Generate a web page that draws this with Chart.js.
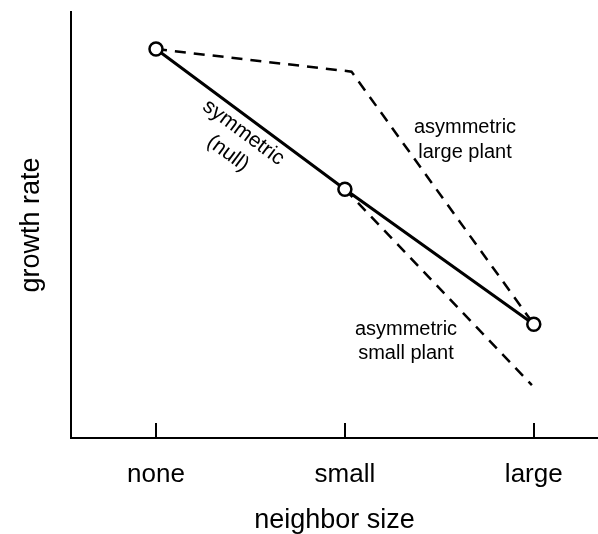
<!DOCTYPE html>
<html><head><meta charset="utf-8">
<script src="https://cdn.jsdelivr.net/npm/chart.js@4.4.1/dist/chart.umd.min.js"></script>
<style>html,body{margin:0;padding:0;background:#fff;} canvas{display:block;}</style>
</head><body>
<canvas id="c" width="598" height="534"></canvas>
<script>
// ---- data ----
const categories = ['none', 'small', 'large'];
const categoryX = [0, 1, 2];
const symmetricY = [9.13, 5.84, 2.67];
const largePlantX = [0, 1.035, 2];
const largePlantY = [9.13, 8.6, 2.67];
const smallPlantX = [1, 1.99];
const smallPlantY = [5.84, 1.24];
const xTitle = 'neighbor size';
const yTitle = 'growth rate';
const symLabel = ['symmetric', '(null)'];
const largeLabel = ['asymmetric', 'large plant'];
const smallLabel = ['asymmetric', 'small plant'];

const FONT = '"Liberation Sans", Arial, Helvetica, sans-serif';
const toPts = (xs, ys) => xs.map((x, i) => ({x, y: ys[i]}));

const annot = {
  id: 'annot',
  afterDraw(chart) {
    const {ctx, scales: {x, y}} = chart;
    ctx.save();
    // inner tick marks
    ctx.strokeStyle = '#000'; ctx.lineWidth = 2;
    const by = chart.chartArea.bottom;
    categoryX.forEach(v => {
      const px = Math.round(x.getPixelForValue(v));
      ctx.beginPath(); ctx.moveTo(px, by); ctx.lineTo(px, by - 15); ctx.stroke();
    });
    ctx.fillStyle = '#000';
    ctx.textAlign = 'center';
    ctx.textBaseline = 'middle';
    // rotated symmetric label
    const p0 = {x: x.getPixelForValue(categoryX[0]), y: y.getPixelForValue(symmetricY[0])};
    const p1 = {x: x.getPixelForValue(categoryX[1]), y: y.getPixelForValue(symmetricY[1])};
    const ang = Math.atan2(p1.y - p0.y, p1.x - p0.x);
    const len = Math.hypot(p1.x - p0.x, p1.y - p0.y);
    ctx.font = '21px ' + FONT;
    ctx.translate(p0.x, p0.y);
    ctx.rotate(ang);
    ctx.fillText(symLabel[0], len * 0.51, 15);
    ctx.fillText(symLabel[1], len * 0.51, 41);
    ctx.setTransform(1, 0, 0, 1, 0, 0);
    ctx.textBaseline = 'alphabetic';
    ctx.font = '20px ' + FONT;
    ctx.fillText(largeLabel[0], 465, 133);
    ctx.fillText(largeLabel[1], 465, 158);
    ctx.fillText(smallLabel[0], 406, 335);
    ctx.fillText(smallLabel[1], 406, 359);
    ctx.restore();
  }
};

new Chart(document.getElementById('c'), {
  type: 'line',
  data: {
    datasets: [
      {
        label: 'symmetric (null)',
        data: toPts(categoryX, symmetricY),
        borderColor: '#000', borderWidth: 3,
        pointRadius: 6.5, pointBorderWidth: 2.5,
        pointBackgroundColor: '#fff', pointBorderColor: '#000',
        tension: 0
      },
      {
        label: 'asymmetric large plant',
        data: toPts(largePlantX, largePlantY),
        borderColor: '#000', borderWidth: 2.5, borderDash: [11, 8],
        pointRadius: 0, tension: 0
      },
      {
        label: 'asymmetric small plant',
        data: toPts(smallPlantX, smallPlantY),
        borderColor: '#000', borderWidth: 2.5, borderDash: [11, 8],
        pointRadius: 0, tension: 0
      }
    ]
  },
  options: {
    responsive: false,
    animation: false,
    devicePixelRatio: 1,
    layout: {autoPadding: false, padding: {top: 12, right: 0, bottom: 0, left: 0}},
    plugins: {legend: {display: false}, tooltip: {enabled: false}},
    scales: {
      x: {
        type: 'linear', min: -0.45, max: 2.34,
        afterBuildTicks: s => { s.ticks = categoryX.map(v => ({value: v})); },
        afterFit: s => { s.height = 96; s.paddingLeft = 0; s.paddingRight = 0; },
        grid: {display: false},
        border: {display: true, color: '#000', width: 2},
        ticks: {
          padding: 13,
          color: '#000',
          font: {family: FONT, size: 26, lineHeight: 1.2},
          callback: v => categories[categoryX.indexOf(v)] ?? ''
        },
        title: {
          display: true, text: xTitle, color: '#000',
          font: {family: FONT, size: 27, lineHeight: 1},
          padding: 0
        }
      },
      y: {
        type: 'linear', min: 0, max: 10,
        afterFit: s => { s.width = 71; s.paddingTop = 0; s.paddingBottom = 0; },
        grid: {display: false},
        border: {display: true, color: '#000', width: 2},
        ticks: {display: false},
        title: {
          display: true, text: yTitle, color: '#000',
          font: {family: FONT, size: 27, lineHeight: 1},
          padding: {top: 18, bottom: 0}
        }
      }
    }
  },
  plugins: [annot]
});
</script>
</body></html>
